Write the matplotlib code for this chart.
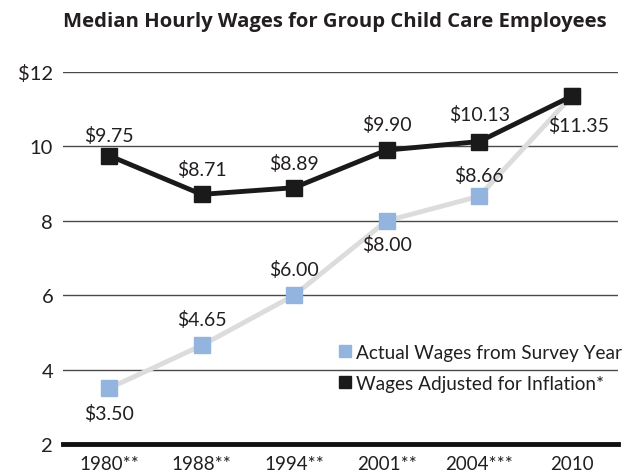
import matplotlib
matplotlib.use('Agg')
import matplotlib.pyplot as plt
import matplotlib.transforms as mtransforms
from matplotlib.lines import Line2D

plt.rcParams['font.family'] = ['Lato', 'DejaVu Sans']

years = ['1980**', '1988**', '1994**', '2001**', '2004***', '2010']
actual = [3.50, 4.65, 6.00, 8.00, 8.66, 11.35]
adjusted = [9.75, 8.71, 8.89, 9.90, 10.13, 11.35]
yticks = [2, 4, 6, 8, 10, 12]
ytick_labels = ['2', '4', '6', '8', '10', '$12']

# label offsets in points (positive = above marker)
actual_off = [-18, 19, 19, -17, 15, None]
adjusted_off = [15, 18, 18, 19, 20, -21]

fig = plt.figure(figsize=(6.29, 4.77), dpi=100)
ax = fig.add_axes([0.1, 0.067, 0.8825, 0.78])
x = list(range(len(years)))

for v in yticks[1:]:
    ax.axhline(v, color='#4a4a4a', lw=1.0, zorder=1)
ax.axhline(2, color='#111111', lw=3.5, zorder=2, clip_on=False)

ax.plot(x, actual, color='#dcdcdc', lw=3.5, zorder=3, solid_capstyle='butt')
ax.plot(x, actual, 's', color='#93b4df', ms=11, zorder=4, lw=0)
ax.plot(x, adjusted, color='#1a1a1a', lw=3.5, zorder=5)
ax.plot(x, adjusted, 's', color='#1a1a1a', ms=11, zorder=6, lw=0, clip_on=False)

for xi, v, off in zip(x, actual, actual_off):
    if off is None:
        continue
    ax.annotate(f'${v:.2f}', (xi, v), xytext=(0, off), textcoords='offset points',
                ha='center', va='center', fontsize=14, color='#231f20', zorder=7)
for xi, v, off in zip(x, adjusted, adjusted_off):
    ax.annotate(f'${v:.2f}', (xi, v), xytext=(5 if off < 0 else 0, off),
                textcoords='offset points', ha='center', va='center',
                fontsize=14, color='#231f20', zorder=7)

ax.set_xlim(-0.5, len(years) - 0.5)
ax.set_ylim(2, 12)
ax.set_yticks(yticks)
ax.set_yticklabels(ytick_labels, fontsize=14.5, color='#231f20')
ax.set_xticks(x)
ax.set_xticklabels(years, fontsize=13.5, color='#231f20')
offset = mtransforms.ScaledTranslation(5 / 72, 0, fig.dpi_scale_trans)
for lab in ax.get_xticklabels():
    lab.set_transform(lab.get_transform() + offset)
ax.tick_params(axis='both', length=0)
ax.tick_params(axis='y', pad=7)
ax.tick_params(axis='x', pad=8)
for s in ax.spines.values():
    s.set_visible(False)

handles = [Line2D([], [], marker='s', color='#93b4df', lw=0, ms=8),
           Line2D([], [], marker='s', color='#1a1a1a', lw=0, ms=8)]
ax.legend(handles, ['Actual Wages from Survey Year', 'Wages Adjusted for Inflation*'],
          loc='upper left', bbox_to_anchor=(0.485, 0.29), frameon=False,
          fontsize=13.7, handlelength=0.6, handletextpad=0.25, labelspacing=0.75,
          borderaxespad=0, labelcolor='#231f20')

fig.text(0.532, 0.953, 'Median Hourly Wages for Group Child Care Employees',
         ha='center', va='center', fontsize=14.6, fontweight='bold',
         family=['Open Sans', 'DejaVu Sans'], color='#231f20')

fig.savefig('out.png', dpi=100)
